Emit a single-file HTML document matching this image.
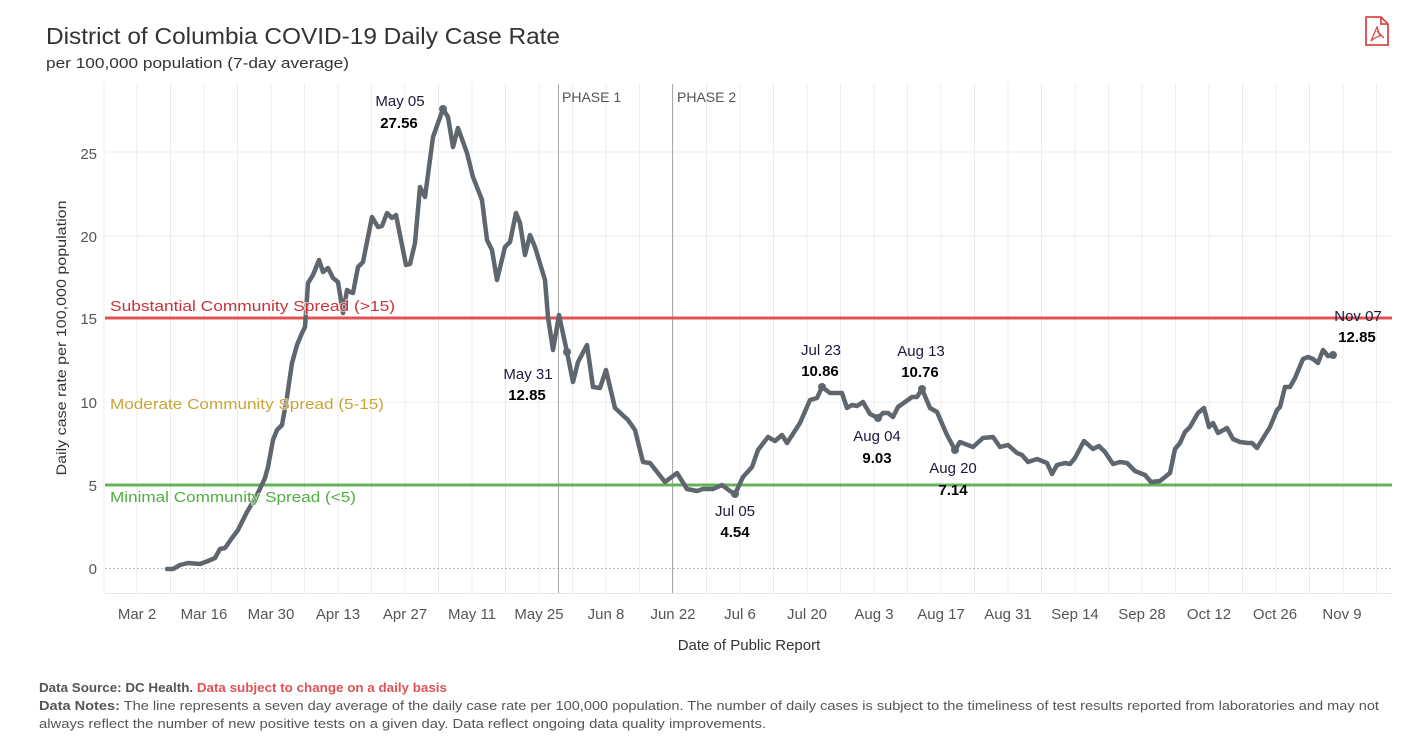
<!DOCTYPE html>
<html><head><meta charset="utf-8"><style>
body{margin:0;background:#fff;}
svg{display:block;font-family:"Liberation Sans",sans-serif;}
</style></head><body>
<svg width="1419" height="743" viewBox="0 0 1419 743" xmlns="http://www.w3.org/2000/svg">
<rect width="1419" height="743" fill="#fff"/>
<text x="46" y="44" font-size="23" fill="#333" textLength="514" lengthAdjust="spacingAndGlyphs">District of Columbia COVID-19 Daily Case Rate</text>
<text x="46" y="68" font-size="15" fill="#333" textLength="303" lengthAdjust="spacingAndGlyphs">per 100,000 population (7-day average)</text>
<g fill="none" stroke="#e04848" stroke-width="1.8">
<path d="M1366 17 H1381 L1388 24 V45 H1366 Z M1381 17 V24 H1388"/>
<path d="M1371 41 L1377 27 L1380 36 Q1375 37 1371 41 M1377 31 L1384 38" stroke-width="1.3"/>
</g>
<g stroke="#ececec" stroke-width="1">
<line x1="104" y1="84" x2="104" y2="593"/><line x1="137" y1="84" x2="137" y2="593"/><line x1="170.5" y1="84" x2="170.5" y2="593"/><line x1="204" y1="84" x2="204" y2="593"/><line x1="237.5" y1="84" x2="237.5" y2="593"/><line x1="271" y1="84" x2="271" y2="593"/><line x1="304.5" y1="84" x2="304.5" y2="593"/><line x1="338" y1="84" x2="338" y2="593"/><line x1="371.5" y1="84" x2="371.5" y2="593"/><line x1="405" y1="84" x2="405" y2="593"/><line x1="438.5" y1="84" x2="438.5" y2="593"/><line x1="472" y1="84" x2="472" y2="593"/><line x1="505.5" y1="84" x2="505.5" y2="593"/><line x1="539" y1="84" x2="539" y2="593"/><line x1="572.5" y1="84" x2="572.5" y2="593"/><line x1="606" y1="84" x2="606" y2="593"/><line x1="639.5" y1="84" x2="639.5" y2="593"/><line x1="673" y1="84" x2="673" y2="593"/><line x1="706.5" y1="84" x2="706.5" y2="593"/><line x1="740" y1="84" x2="740" y2="593"/><line x1="773.5" y1="84" x2="773.5" y2="593"/><line x1="807" y1="84" x2="807" y2="593"/><line x1="840.5" y1="84" x2="840.5" y2="593"/><line x1="874" y1="84" x2="874" y2="593"/><line x1="907.5" y1="84" x2="907.5" y2="593"/><line x1="941" y1="84" x2="941" y2="593"/><line x1="974.5" y1="84" x2="974.5" y2="593"/><line x1="1008" y1="84" x2="1008" y2="593"/><line x1="1041.5" y1="84" x2="1041.5" y2="593"/><line x1="1075" y1="84" x2="1075" y2="593"/><line x1="1108.5" y1="84" x2="1108.5" y2="593"/><line x1="1142" y1="84" x2="1142" y2="593"/><line x1="1175.5" y1="84" x2="1175.5" y2="593"/><line x1="1209" y1="84" x2="1209" y2="593"/><line x1="1242.5" y1="84" x2="1242.5" y2="593"/><line x1="1276" y1="84" x2="1276" y2="593"/><line x1="1309.5" y1="84" x2="1309.5" y2="593"/><line x1="1343" y1="84" x2="1343" y2="593"/><line x1="1376.5" y1="84" x2="1376.5" y2="593"/>
<line x1="105" y1="152" x2="1392" y2="152"/><line x1="105" y1="236" x2="1392" y2="236"/><line x1="105" y1="402" x2="1392" y2="402"/>
</g>
<line x1="105" y1="568.5" x2="1392" y2="568.5" stroke="#bbb" stroke-dasharray="2,2"/>
<line x1="105" y1="593.5" x2="1392" y2="593.5" stroke="#e6e6e6"/>
<line x1="558.5" y1="84" x2="558.5" y2="593" stroke="#aaa"/>
<line x1="672.5" y1="84" x2="672.5" y2="593" stroke="#aaa"/>
<text x="562" y="102" font-size="14" fill="#555">PHASE 1</text>
<text x="677" y="102" font-size="14" fill="#555">PHASE 2</text>
<g font-size="15" fill="#555" text-anchor="end">
<text x="97" y="574">0</text><text x="97" y="491">5</text><text x="97" y="408">10</text><text x="97" y="324">15</text><text x="97" y="242">20</text><text x="97" y="159">25</text>
</g>
<text transform="translate(66,338) rotate(-90)" font-size="14" fill="#333" text-anchor="middle" textLength="275" lengthAdjust="spacingAndGlyphs">Daily case rate per 100,000 population</text>
<g font-size="15" fill="#555" text-anchor="middle">
<text x="137" y="619">Mar 2</text><text x="204" y="619">Mar 16</text><text x="271" y="619">Mar 30</text><text x="338" y="619">Apr 13</text><text x="405" y="619">Apr 27</text><text x="472" y="619">May 11</text><text x="539" y="619">May 25</text><text x="606" y="619">Jun 8</text><text x="673" y="619">Jun 22</text><text x="740" y="619">Jul 6</text><text x="807" y="619">Jul 20</text><text x="874" y="619">Aug 3</text><text x="941" y="619">Aug 17</text><text x="1008" y="619">Aug 31</text><text x="1075" y="619">Sep 14</text><text x="1142" y="619">Sep 28</text><text x="1209" y="619">Oct 12</text><text x="1275" y="619">Oct 26</text><text x="1342" y="619">Nov 9</text>
</g>
<text x="749" y="650" font-size="15" fill="#333" text-anchor="middle">Date of Public Report</text>
<line x1="105" y1="318" x2="1392" y2="318" stroke="#e05256" stroke-width="3"/>
<line x1="105" y1="485" x2="1392" y2="485" stroke="#62b456" stroke-width="3"/>
<polyline fill="none" stroke="#5f666d" stroke-width="4.5" stroke-linejoin="round" stroke-linecap="round" points="167,569 173,569 180,565 188,563 200,564 208,561 215,558 220,549 225,548 232,538 238,530 247,512 257,495 265,478 268,467 273,440 277,430 282,425 287,397 292,363 297,345 302,333 305,327 308,283 313,275 319,260 323,272 328,268 333,278 338,282 343,313 347,290 350,292 353,293 358,267 363,262 372,217 378,227 382,226 387,213 392,218 396,215 406,265 410,264 415,243 420,187 425,197 433,137 443,109 448,117 453,147 458,128 467,153 473,177 482,200 487,240 492,250 497,280 505,247 510,242 516,213 520,223 525,255 530,235 535,247 545,280 548,317 553,350 559,315 567,352 573,382 578,362 587,345 593,387 600,388 606,370 615,408 628,420 635,430 643,462 650,463 665,482 677,473 687,489 697,491 703,489 713,489 722,485 730,491 735,494 743,477 752,467 758,450 768,437 775,441 782,435 787,443 800,423 810,400 817,398 822,387 830,393 842,393 847,408 852,405 857,406 863,402 870,414 878,418 883,413 888,413 893,417 898,407 905,402 912,397 917,397 922,389 930,408 937,412 947,435 955,450 960,442 973,447 983,438 993,437 1000,447 1008,445 1017,453 1022,455 1028,462 1037,459 1047,463 1052,474 1057,465 1065,463 1070,464 1075,458 1084,441 1093,449 1099,446 1105,452 1113,464 1120,462 1127,463 1135,471 1145,475 1151,482 1160,481 1170,473 1175,449 1180,443 1185,432 1190,427 1198,413 1204,408 1209,427 1213,423 1218,433 1227,428 1233,439 1240,442 1248,443 1252,443 1257,448 1270,427 1277,410 1280,407 1285,387 1290,387 1295,378 1303,359 1308,357 1313,359 1318,363 1323,350 1328,356 1333,355"/>
<g fill="#5f666d"><circle cx="443" cy="109" r="4"/><circle cx="567" cy="352" r="4"/><circle cx="735" cy="494" r="4"/><circle cx="822" cy="387" r="4"/><circle cx="878" cy="418" r="4"/><circle cx="922" cy="389" r="4"/><circle cx="955" cy="450" r="4"/><circle cx="1333" cy="355" r="4"/></g>
<g font-size="15" stroke="#fff" stroke-width="2" stroke-opacity="0.6" paint-order="stroke">
<text x="110" y="311" fill="#c8323a" textLength="285" lengthAdjust="spacingAndGlyphs">Substantial Community Spread (&gt;15)</text>
<text x="110" y="409" fill="#c9a435" textLength="274" lengthAdjust="spacingAndGlyphs">Moderate Community Spread (5-15)</text>
<text x="110" y="502" fill="#4fae3f" textLength="246" lengthAdjust="spacingAndGlyphs">Minimal Community Spread (&lt;5)</text>
</g>
<g font-size="15" text-anchor="middle">
<text x="400" y="106" fill="#1a1a3a">May 05</text><text x="399" y="128" font-weight="bold" fill="#000">27.56</text>
<text x="528" y="379" fill="#1a1a3a">May 31</text><text x="527" y="400" font-weight="bold" fill="#000">12.85</text>
<text x="821" y="355" fill="#1a1a3a">Jul 23</text><text x="820" y="376" font-weight="bold" fill="#000">10.86</text>
<text x="921" y="356" fill="#1a1a3a">Aug 13</text><text x="920" y="377" font-weight="bold" fill="#000">10.76</text>
<text x="877" y="441" fill="#1a1a3a">Aug 04</text><text x="877" y="463" font-weight="bold" fill="#000">9.03</text>
<text x="953" y="473" fill="#1a1a3a">Aug 20</text><text x="953" y="495" font-weight="bold" fill="#000">7.14</text>
<text x="735" y="516" fill="#1a1a3a">Jul 05</text><text x="735" y="537" font-weight="bold" fill="#000">4.54</text>
<text x="1358" y="321" fill="#1a1a3a">Nov 07</text><text x="1357" y="342" font-weight="bold" fill="#000">12.85</text>
</g>
<g font-size="12.5" fill="#555">
<text x="39" y="692" textLength="408" lengthAdjust="spacingAndGlyphs"><tspan font-weight="bold">Data Source: DC Health. </tspan><tspan font-weight="bold" fill="#e05256">Data subject to change on a daily basis</tspan></text>
<text x="39" y="710" textLength="1340" lengthAdjust="spacingAndGlyphs"><tspan font-weight="bold">Data Notes:</tspan> The line represents a seven day average of the daily case rate per 100,000 population. The number of daily cases is subject to the timeliness of test results reported from laboratories and may not</text>
<text x="39" y="728" textLength="727" lengthAdjust="spacingAndGlyphs">always reflect the number of new positive tests on a given day. Data reflect ongoing data quality improvements.</text>
</g>
</svg>
</body></html>
